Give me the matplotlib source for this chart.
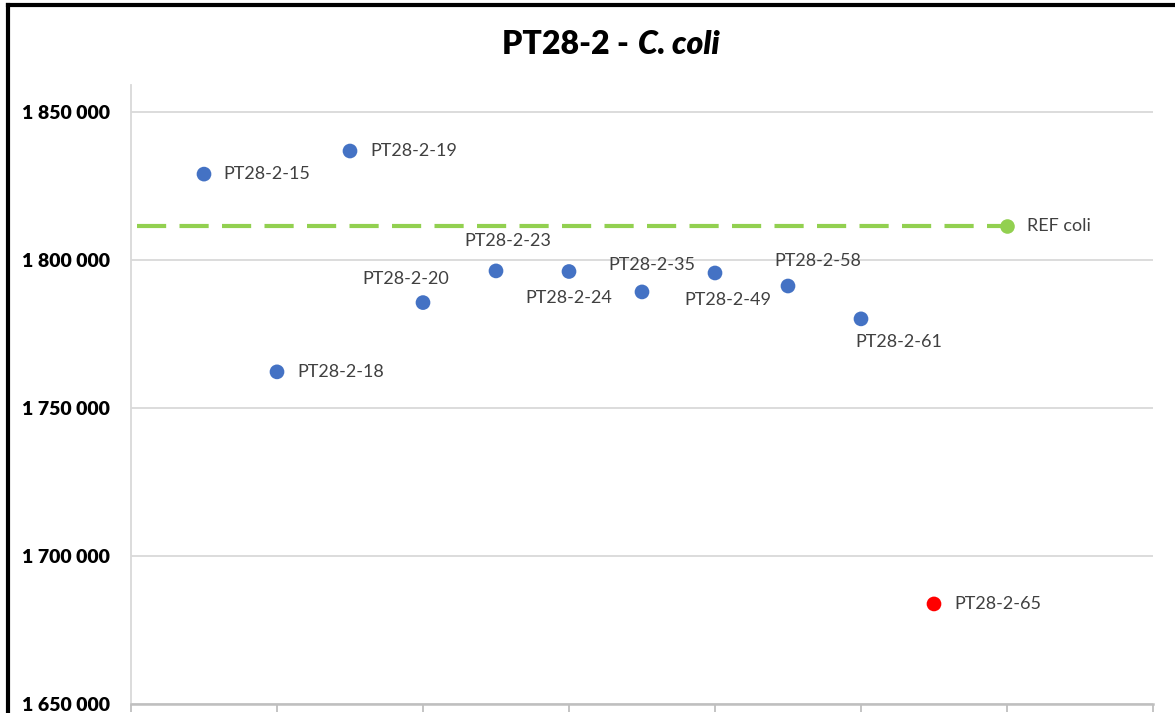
import matplotlib.pyplot as plt
from matplotlib.lines import Line2D

plt.rcParams['font.family'] = ['Lato', 'DejaVu Sans']

# isolates on the x positions 1..11, reference strain at 12
samples = ['PT28-2-15', 'PT28-2-18', 'PT28-2-19', 'PT28-2-20', 'PT28-2-23', 'PT28-2-24',
           'PT28-2-35', 'PT28-2-49', 'PT28-2-58', 'PT28-2-61', 'PT28-2-65']
sample_x = [1, 2, 3, 4, 5, 6, 7, 8, 9, 10, 11]
sample_y = [1829000, 1762200, 1836800, 1785600, 1796300, 1796100,
            1789200, 1795600, 1791200, 1780100, 1683800]
outliers = ['PT28-2-65']

ref_name = 'REF coli'
ref_x = 12
ref_y = 1811500

yticks = [1650000, 1700000, 1750000, 1800000, 1850000]
ytick_labels = ['1 650 000', '1 700 000', '1 750 000', '1 800 000', '1 850 000']

blue = '#4472C4'
red = '#FF0000'
green = '#92D050'
grey_txt = '#404040'

# label offsets in pixels (dx, dy, ha, va)
label_pos = {
    'PT28-2-15': (19, 0, 'left', 'center'),
    'PT28-2-18': (20, 0, 'left', 'center'),
    'PT28-2-19': (20, 0, 'left', 'center'),
    'PT28-2-20': (-17, 24, 'center', 'center'),
    'PT28-2-23': (12, 30, 'center', 'center'),
    'PT28-2-24': (0, -27, 'center', 'center'),
    'PT28-2-35': (10, 27, 'center', 'center'),
    'PT28-2-49': (13, -27, 'center', 'center'),
    'PT28-2-58': (30, 25, 'center', 'center'),
    'PT28-2-61': (38, -23, 'center', 'center'),
    'PT28-2-65': (20, 0, 'left', 'center'),
}

fig = plt.figure(figsize=(11.75, 7.13), dpi=100)
ax = fig.add_axes([131 / 1175, 1 - 704 / 713, (1153 - 131) / 1175, (704 - 85) / 713])

ax.set_xlim(0, 14)
ax.set_ylim(1650000, 1859100)

# reference level as a dashed line ending in the REF point
ax.plot([0.08, ref_x], [ref_y, ref_y], color=green, lw=3, dashes=(7, 3.2), zorder=2,
        solid_capstyle='butt', dash_capstyle='butt')
ax.plot([ref_x], [ref_y], 'o', color=green, ms=10.5, mec='none', zorder=3)
ax.annotate(ref_name, (ref_x, ref_y), xytext=(20, 0), textcoords='offset pixels',
            ha='left', va='center', fontsize=13, color=grey_txt)

colors = [red if s in outliers else blue for s in samples]
ax.scatter(sample_x, sample_y, s=112, c=colors, edgecolors='none', zorder=3)

for name, x, y in zip(samples, sample_x, sample_y):
    dx, dy, ha, va = label_pos[name]
    ax.annotate(name, (x, y), xytext=(dx, dy), textcoords='offset pixels',
                ha=ha, va=va, fontsize=13, color=grey_txt)

ax.set_yticks(yticks)
ax.set_yticklabels(ytick_labels, fontsize=14, fontweight='heavy', color='black')
ax.tick_params(axis='y', length=0, pad=15)
ax.set_xticks(range(0, 15, 2))
ax.set_xticklabels([])
ax.tick_params(axis='x', length=6, width=1.3, color='#BFBFBF', direction='out')

ax.yaxis.grid(True, color='#D9D9D9', lw=1.3)
ax.set_axisbelow(True)
for side in ['top', 'right']:
    ax.spines[side].set_visible(False)
ax.spines['left'].set_color('#D9D9D9')
ax.spines['left'].set_linewidth(1.3)
ax.spines['bottom'].set_color('#BFBFBF')
ax.spines['bottom'].set_linewidth(1.8)

# title: bold, species name in italics
fig.text(629 / 1175, 1 - 45 / 713, 'PT28-2 -', ha='right', va='center',
         fontsize=23, fontweight='heavy')
fig.text(638 / 1175, 1 - 45 / 713, 'C. coli', ha='left', va='center',
         fontsize=23, fontweight='heavy', fontstyle='italic')

# chart border (left and top edges)
fig.add_artist(Line2D([8 / 1175, 8 / 1175], [0, 1 - 5 / 713], color='black', lw=3,
                      transform=fig.transFigure, solid_capstyle='projecting'))
fig.add_artist(Line2D([8 / 1175, 1], [1 - 5 / 713, 1 - 5 / 713], color='black', lw=3,
                      transform=fig.transFigure, solid_capstyle='projecting'))

fig.savefig('out.png', dpi=100)
